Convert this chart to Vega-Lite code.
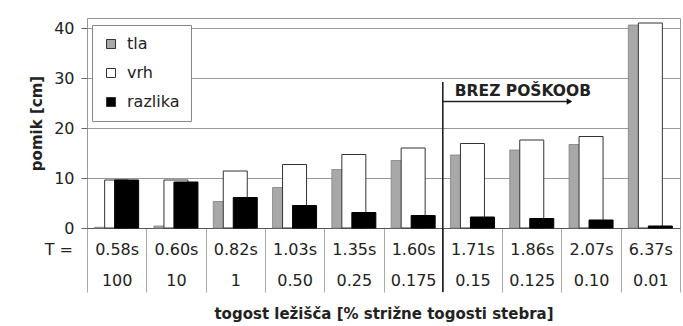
{
  "$schema": "https://vega.github.io/schema/vega-lite/v6.json",
  "width": 593,
  "height": 210,
  "autosize": {"type": "none"},
  "padding": {"left": 87, "top": 18, "right": 3, "bottom": 98},
  "background": "white",
  "data": {
    "values": [
      {"cat": "0.58s|100", "series": "tla", "value": 0.15},
      {"cat": "0.58s|100", "series": "vrh", "value": 9.6},
      {"cat": "0.58s|100", "series": "razlika", "value": 9.6},
      {"cat": "0.60s|10", "series": "tla", "value": 0.4},
      {"cat": "0.60s|10", "series": "vrh", "value": 9.6},
      {"cat": "0.60s|10", "series": "razlika", "value": 9.2},
      {"cat": "0.82s|1", "series": "tla", "value": 5.3},
      {"cat": "0.82s|1", "series": "vrh", "value": 11.4},
      {"cat": "0.82s|1", "series": "razlika", "value": 6.1},
      {"cat": "1.03s|0.50", "series": "tla", "value": 8.1},
      {"cat": "1.03s|0.50", "series": "vrh", "value": 12.7},
      {"cat": "1.03s|0.50", "series": "razlika", "value": 4.5},
      {"cat": "1.35s|0.25", "series": "tla", "value": 11.7},
      {"cat": "1.35s|0.25", "series": "vrh", "value": 14.7},
      {"cat": "1.35s|0.25", "series": "razlika", "value": 3.1},
      {"cat": "1.60s|0.175", "series": "tla", "value": 13.5},
      {"cat": "1.60s|0.175", "series": "vrh", "value": 16.0},
      {"cat": "1.60s|0.175", "series": "razlika", "value": 2.5},
      {"cat": "1.71s|0.15", "series": "tla", "value": 14.6},
      {"cat": "1.71s|0.15", "series": "vrh", "value": 16.9},
      {"cat": "1.71s|0.15", "series": "razlika", "value": 2.2},
      {"cat": "1.86s|0.125", "series": "tla", "value": 15.6},
      {"cat": "1.86s|0.125", "series": "vrh", "value": 17.6},
      {"cat": "1.86s|0.125", "series": "razlika", "value": 1.9},
      {"cat": "2.07s|0.10", "series": "tla", "value": 16.7},
      {"cat": "2.07s|0.10", "series": "vrh", "value": 18.3},
      {"cat": "2.07s|0.10", "series": "razlika", "value": 1.6},
      {"cat": "6.37s|0.01", "series": "tla", "value": 40.6},
      {"cat": "6.37s|0.01", "series": "vrh", "value": 41.0},
      {"cat": "6.37s|0.01", "series": "razlika", "value": 0.4}
    ]
  },
  "layer": [
    {
      "transform": [{"filter": "datum.series === 'tla'"}],
      "mark": {"type": "bar", "width": 24, "xOffset": -10, "stroke": "#808080", "strokeWidth": 0.8},
      "encoding": {
        "x": {
          "field": "cat", "type": "nominal", "title": "togost ležišča [% strižne togosti stebra]",
          "scale": {"domain": ["0.58s|100", "0.60s|10", "0.82s|1", "1.03s|0.50", "1.35s|0.25", "1.60s|0.175", "1.71s|0.15", "1.86s|0.125", "2.07s|0.10", "6.37s|0.01"], "paddingInner": 0, "paddingOuter": 0},
          "axis": {"labelExpr": "isValid(datum.value) ? split(datum.value, '|') : ''"}
        },
        "y": {"field": "value", "type": "quantitative", "title": "pomik [cm]", "scale": {"domain": [0, 42], "nice": false}, "axis": {"values": [0, 10, 20, 30, 40]}},
        "color": {
          "field": "series", "type": "nominal",
          "scale": {"domain": ["tla", "vrh", "razlika"], "range": ["#a8a8a8", "#ffffff", "#000000"]},
          "legend": {
            "title": null, "orient": "none", "legendX": 5, "legendY": 7,
            "direction": "vertical",
            "symbolType": "square", "symbolSize": 81, "symbolStrokeColor": "#444", "symbolStrokeWidth": 1,
            "labelFont": "DejaVu Sans", "labelFontSize": 16, "labelColor": "#222", "labelOffset": 8,
            "rowPadding": 13, "padding": 11, "strokeColor": "#888", "fillColor": "white"
          }
        }
      }
    },
    {
      "transform": [{"filter": "datum.series === 'vrh'"}],
      "mark": {"type": "bar", "width": 24, "xOffset": 0, "stroke": "#333", "strokeWidth": 1},
      "encoding": {
        "x": {"field": "cat", "type": "nominal"},
        "y": {"field": "value", "type": "quantitative"},
        "color": {"field": "series", "type": "nominal"}
      }
    },
    {
      "transform": [{"filter": "datum.series === 'razlika'"}],
      "mark": {"type": "bar", "width": 24, "xOffset": 10, "stroke": "#000", "strokeWidth": 1},
      "encoding": {
        "x": {"field": "cat", "type": "nominal"},
        "y": {"field": "value", "type": "quantitative"},
        "color": {"field": "series", "type": "nominal"}
      }
    },
    {
      "data": {"values": [{"cat": "1.71s|0.15"}]},
      "mark": {"type": "rule", "color": "#222", "strokeWidth": 1.6},
      "encoding": {
        "x": {"field": "cat", "type": "nominal", "bandPosition": 0},
        "y": {"datum": 29.2},
        "y2": {"datum": -12.8}
      }
    },
    {
      "data": {"values": [{"cat": "1.71s|0.15", "end": "2.07s|0.10"}]},
      "mark": {"type": "rule", "color": "#222", "strokeWidth": 1.3, "x2Offset": -20},
      "encoding": {
        "x": {"field": "cat", "type": "nominal", "bandPosition": 0},
        "x2": {"field": "end"},
        "y": {"datum": 25.3}
      }
    },
    {
      "data": {"values": [{"cat": "2.07s|0.10"}]},
      "mark": {"type": "point", "shape": "triangle-right", "filled": true, "color": "#111", "size": 40, "opacity": 1, "xOffset": 8},
      "encoding": {
        "x": {"field": "cat", "type": "nominal", "bandPosition": 0},
        "y": {"datum": 25.3}
      }
    },
    {
      "data": {"values": [{"cat": "1.71s|0.15", "label": "BREZ POŠKOOB"}]},
      "mark": {"type": "text", "align": "left", "baseline": "middle", "dx": 12, "font": "DejaVu Sans", "fontSize": 15.5, "fontWeight": "bold", "color": "#222"},
      "encoding": {
        "x": {"field": "cat", "type": "nominal", "bandPosition": 0},
        "y": {"datum": 27.5},
        "text": {"field": "label"}
      }
    },
    {
      "data": {"values": [{"cat": "0.58s|100", "label": "T ="}]},
      "mark": {"type": "text", "align": "right", "baseline": "middle", "dx": -14, "font": "DejaVu Sans", "fontSize": 16, "color": "#222"},
      "encoding": {
        "x": {"field": "cat", "type": "nominal", "bandPosition": 0},
        "y": {"datum": -4.4},
        "text": {"field": "label"}
      }
    }
  ],
  "config": {
    "font": "DejaVu Sans",
    "view": {"stroke": "#999", "strokeWidth": 1},
    "axisX": {
      "labelAngle": 0,
      "labelFont": "DejaVu Sans",
      "labelFontSize": 16,
      "labelColor": "#222",
      "labelLineHeight": 31,
      "labelBaseline": "top",
      "labelPadding": -51,
      "tickBand": "extent",
      "tickSize": 64,
      "tickColor": "#aaa",
      "domainColor": "#555",
      "grid": false,
      "titleFont": "DejaVu Sans",
      "titleFontSize": 15,
      "titleFontWeight": "bold",
      "titleColor": "#222",
      "titlePadding": 14
    },
    "axisY": {
      "grid": true,
      "gridColor": "#999",
      "domain": false,
      "tickColor": "#666",
      "tickSize": 6,
      "labelFont": "DejaVu Sans",
      "labelFontSize": 16,
      "labelColor": "#222",
      "labelPadding": 7,
      "titleFont": "DejaVu Sans",
      "titleFontSize": 15,
      "titleFontWeight": "bold",
      "titleColor": "#222",
      "titlePadding": 9
    }
  }
}
